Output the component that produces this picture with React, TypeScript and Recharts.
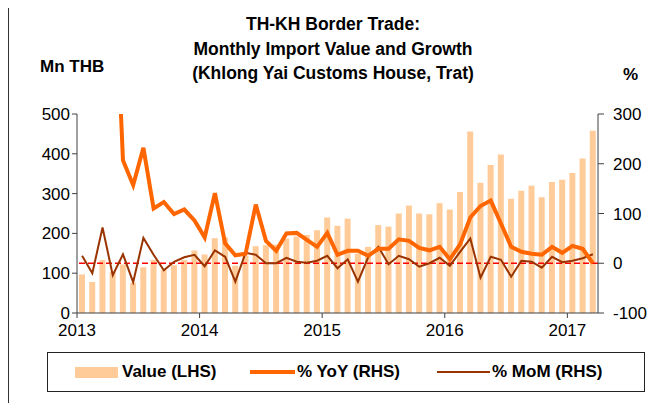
import { ComposedChart, Bar, Line, XAxis, YAxis, ReferenceLine } from 'recharts'

// Jan 2013 .. Mar 2017
const months = [
  'Jan-13', 'Feb-13', 'Mar-13', 'Apr-13', 'May-13', 'Jun-13', 'Jul-13', 'Aug-13', 'Sep-13', 'Oct-13', 'Nov-13', 'Dec-13',
  'Jan-14', 'Feb-14', 'Mar-14', 'Apr-14', 'May-14', 'Jun-14', 'Jul-14', 'Aug-14', 'Sep-14', 'Oct-14', 'Nov-14', 'Dec-14',
  'Jan-15', 'Feb-15', 'Mar-15', 'Apr-15', 'May-15', 'Jun-15', 'Jul-15', 'Aug-15', 'Sep-15', 'Oct-15', 'Nov-15', 'Dec-15',
  'Jan-16', 'Feb-16', 'Mar-16', 'Apr-16', 'May-16', 'Jun-16', 'Jul-16', 'Aug-16', 'Sep-16', 'Oct-16', 'Nov-16', 'Dec-16',
  'Jan-17', 'Feb-17', 'Mar-17',
]

const importValue = [
  97, 78, 133, 104, 122, 76, 115, 133, 108, 120, 133, 157,
  147, 188, 190, 119, 144, 168, 170, 172, 187, 192, 196, 208,
  240, 219, 237, 149, 166, 221, 217, 250, 270, 250, 248, 276,
  260, 304, 456, 327, 372, 398, 287, 307, 320, 291, 329, 335,
  352, 388, 458,
]

const yoy = [
  null, null, null, 680, 207, 157, 232, 110, 123, 99, 108, 86,
  52, 141, 40, 16, 19, 118, 45, 25, 60, 61, 47, 33,
  61, 17, 25, 25, 15, 29, 29, 48, 45, 31, 26, 33,
  8, 38, 92, 115, 126, 80, 33, 23, 19, 17, 33, 21,
  35, 29, 0,
]

const mom = [
  15, -20, 72, -24, 18, -38, 51, 17, -14, 3, 12, 17,
  -6, 26, 13, -37, 21, 17, 0, 0, 11, 3, 1, 5,
  15, -10, 8, -37, 12, 33, -2, 15, 8, -7, 0, 11,
  -5, 23, 50, -29, 13, 7, -27, 5, 3, -9, 13, 2,
  5, 10, 18,
]

const yearLabels = ['2013', '2014', '2015', '2016', '2017']
const leftTicks = [0, 100, 200, 300, 400, 500]
const rightTicks = [-100, 0, 100, 200, 300]

const data = months.map((m, i) => ({
  i,
  month: m,
  value: importValue[i],
  yoy: yoy[i],
  mom: mom[i],
}))

// year ticks sit on the boundary before each January
const yearTicks = yearLabels.map((_, k) => k * 12 - 0.5)

const FONT = '"Liberation Sans", Arial, sans-serif'
const AXIS = '#404040'
const tickStyle = { fill: '#000', fontSize: 17, fontFamily: FONT }

export default function App() {
  return (
    <div
      style={{
        position: 'relative',
        width: 652,
        height: 400,
        border: '1px solid #333',
        marginTop: -1,
        fontFamily: FONT,
        background: '#fff',
      }}
    >
      <div
        style={{
          position: 'absolute', left: 124, top: 4, width: 400,
          textAlign: 'center', fontWeight: 'bold', fontSize: 17.5, lineHeight: '24.5px',
        }}
      >
        TH-KH Border Trade:<br />
        Monthly Import Value and Growth<br />
        (Khlong Yai Customs House, Trat)
      </div>
      <div style={{ position: 'absolute', left: 31, top: 49, fontWeight: 'bold', fontSize: 17, lineHeight: '20px' }}>
        Mn THB
      </div>
      <div style={{ position: 'absolute', left: 614, top: 57, fontWeight: 'bold', fontSize: 17, lineHeight: '20px' }}>
        %
      </div>

      <ComposedChart
        width={650}
        height={394}
        data={data}
        margin={{ top: 106, right: 11, bottom: 59, left: 0 }}
      >
        <XAxis
          dataKey="i"
          type="number"
          domain={[-0.5, 50.5]}
          ticks={yearTicks}
          tickFormatter={(v: number) => yearLabels[Math.round((v + 0.5) / 12)]}
          tick={tickStyle}
          tickSize={5}
          tickMargin={6}
          stroke={AXIS}
          height={30}
        />
        <YAxis
          yAxisId="left"
          domain={[0, 500]}
          ticks={leftTicks}
          tick={tickStyle}
          tickSize={5}
          tickMargin={2}
          stroke={AXIS}
          width={68}
        />
        <YAxis
          yAxisId="right"
          orientation="right"
          domain={[-100, 300]}
          allowDataOverflow
          ticks={rightTicks}
          tick={{ ...tickStyle, textAnchor: 'start' }}
          tickSize={6}
          tickMargin={9}
          stroke={AXIS}
          width={50}
        />
        <Bar
          yAxisId="left"
          dataKey="value"
          name="Value (LHS)"
          fill="#FFCC99"
          barSize={6}
          isAnimationActive={false}
        />
        <ReferenceLine yAxisId="right" y={0} stroke="#FF0000" strokeWidth={1.5} strokeDasharray="6 3" />
        <Line
          yAxisId="right"
          dataKey="mom"
          name="% MoM (RHS)"
          stroke="#993300"
          strokeWidth={2}
          dot={false}
          isAnimationActive={false}
        />
        <Line
          yAxisId="right"
          dataKey="yoy"
          name="% YoY (RHS)"
          stroke="#FF6600"
          strokeWidth={4}
          dot={false}
          strokeLinejoin="miter"
          isAnimationActive={false}
        />
      </ComposedChart>

      <div
        style={{
          position: 'absolute', left: 38, top: 344, width: 596, height: 38,
          border: '1px solid #222', fontWeight: 'bold', fontSize: 17,
        }}
      >
        <div style={{ position: 'absolute', left: 27, top: 14, width: 43, height: 11, background: '#FFCC99' }} />
        <div style={{ position: 'absolute', left: 74, top: 9, lineHeight: '20px' }}>Value (LHS)</div>
        <div style={{ position: 'absolute', left: 202, top: 17, width: 45, height: 4, background: '#FF6600' }} />
        <div style={{ position: 'absolute', left: 249, top: 9, lineHeight: '20px' }}>% YoY (RHS)</div>
        <div style={{ position: 'absolute', left: 389, top: 18, width: 53, height: 2, background: '#993300' }} />
        <div style={{ position: 'absolute', left: 444, top: 9, lineHeight: '20px' }}>% MoM (RHS)</div>
      </div>
    </div>
  )
}
